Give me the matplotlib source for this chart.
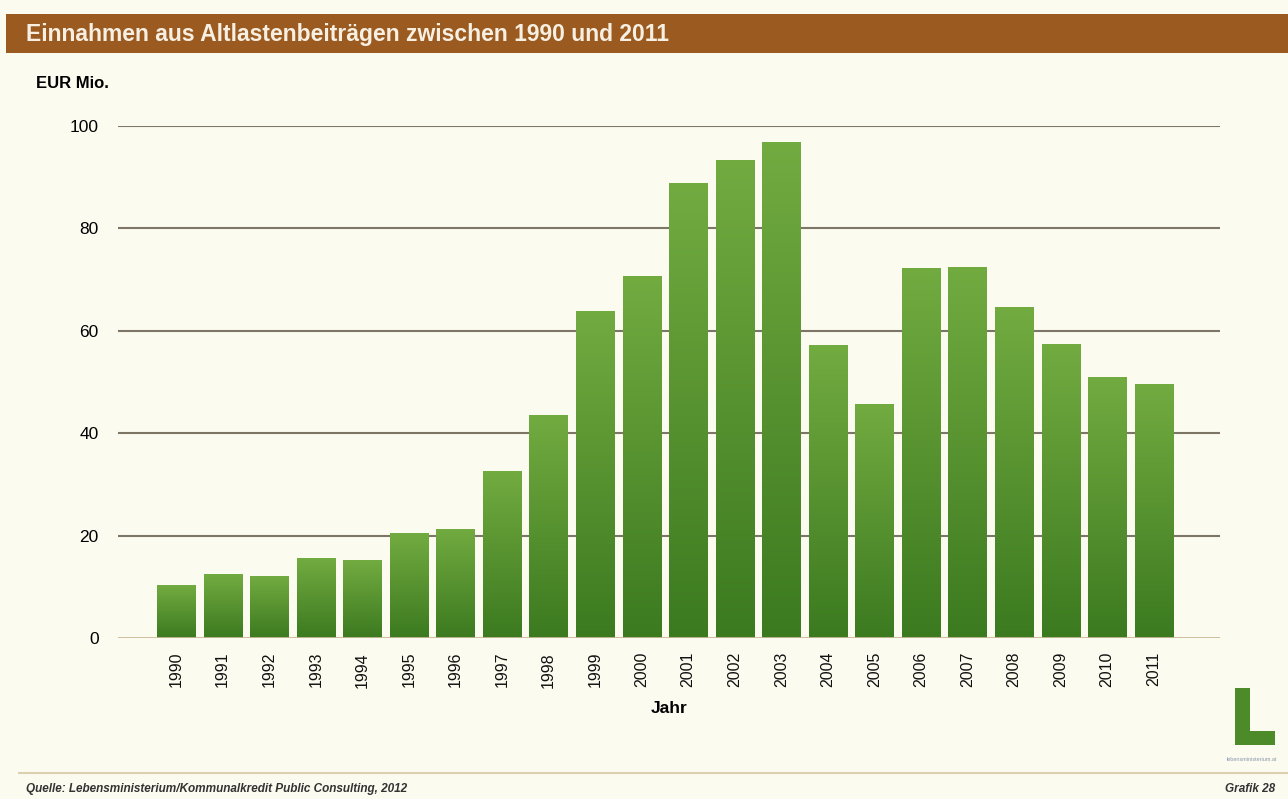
import numpy as np
import matplotlib
matplotlib.use('Agg')
import matplotlib.pyplot as plt
from matplotlib.colors import LinearSegmentedColormap

plt.rcParams['font.family'] = ['Liberation Sans', 'DejaVu Sans']

# Daten
jahre = ['1990', '1991', '1992', '1993', '1994', '1995', '1996', '1997', '1998', '1999', '2000',
         '2001', '2002', '2003', '2004', '2005', '2006', '2007', '2008', '2009', '2010', '2011']
einnahmen = [10.3, 12.5, 12.1, 15.6, 15.2, 20.5, 21.3, 32.6, 43.6, 63.9, 70.7,
             88.9, 93.4, 96.9, 57.2, 45.7, 72.3, 72.5, 64.6, 57.4, 51.0, 49.6]
y_ticks = [0, 20, 40, 60, 80, 100]

bg = '#fcfbf0'
fig = plt.figure(figsize=(12.88, 7.99), dpi=100, facecolor=bg)
ax = fig.add_axes([0.0916, 0.2015, 0.8555, 0.6408])
ax.set_facecolor(bg)

x = np.arange(len(jahre))
bars = ax.bar(x, einnahmen, width=0.82, color='#55952e', zorder=3)

# Farbverlauf in den Balken
cmap = LinearSegmentedColormap.from_list('gruen', ['#3c7a20', '#72ab40'])
grad = np.linspace(0, 1, 256).reshape(-1, 1)
for b in bars:
    bx, by = b.get_x(), b.get_y()
    w, h = b.get_width(), b.get_height()
    im = ax.imshow(grad, cmap=cmap, aspect='auto', origin='lower',
                   extent=[bx, bx + w, by, by + h], zorder=4)
    im.set_clip_path(b)

ax.set_xlim(-1.25, len(jahre) - 1 + 1.42)
ax.set_ylim(0, 100)

# Gitterlinien
for t in y_ticks[1:]:
    ax.axhline(t, color='#7d7566', lw=1.5, zorder=1)
ax.axhline(0, color='#c9b896', lw=2, zorder=5)

for s in ax.spines.values():
    s.set_visible(False)

ax.set_yticks(y_ticks)
ax.set_yticklabels([str(t) for t in y_ticks], fontsize=12.5)
ax.tick_params(axis='y', length=0, pad=14)
ax.set_xticks(x)
ax.set_xticklabels(jahre, rotation=90, fontsize=11.5, color='#111111')
ax.tick_params(axis='x', length=0, pad=10)
ax.set_xlabel('Jahr', fontsize=12.5, fontweight='bold', labelpad=10)

# Titelband
fig.patches.append(plt.Rectangle((0.005, 0.934), 0.995, 0.048, transform=fig.transFigure,
                                 facecolor='#9b5a1f', edgecolor='none'))
fig.text(0.02, 0.957, 'Einnahmen aus Altlastenbeiträgen zwischen 1990 und 2011',
         fontsize=16.5, fontweight='bold', color='#f6efe2', va='center')

fig.text(0.028, 0.896, 'EUR Mio.', fontsize=12, fontweight='bold', va='center')

# Fußzeile
fig.add_artist(plt.Line2D([0.015, 1.0], [0.033, 0.033], transform=fig.transFigure,
                          color='#dccfae', lw=1.5))
fig.text(0.02, 0.012, 'Quelle: Lebensministerium/Kommunalkredit Public Consulting, 2012',
         fontsize=8.5, style='italic', fontweight='bold', color='#333333', va='center')
fig.text(0.99, 0.012, 'Grafik 28', fontsize=8.5, style='italic', fontweight='bold',
         color='#333333', va='center', ha='right')

# Logo (grünes "L" als Form)
W, H = 1288, 799
l_form = [(1235, 688), (1250, 688), (1250, 731), (1275, 731), (1275, 745), (1235, 745)]
fig.patches.append(plt.Polygon([(px / W, 1 - py / H) for px, py in l_form], closed=True,
                               transform=fig.transFigure, facecolor='#4d8a2a', edgecolor='none'))
fig.text(0.972, 0.050, 'lebensministerium.at', fontsize=4, color='#8899aa',
         ha='center', va='center')

fig.savefig('out.png', dpi=100, facecolor=bg)
